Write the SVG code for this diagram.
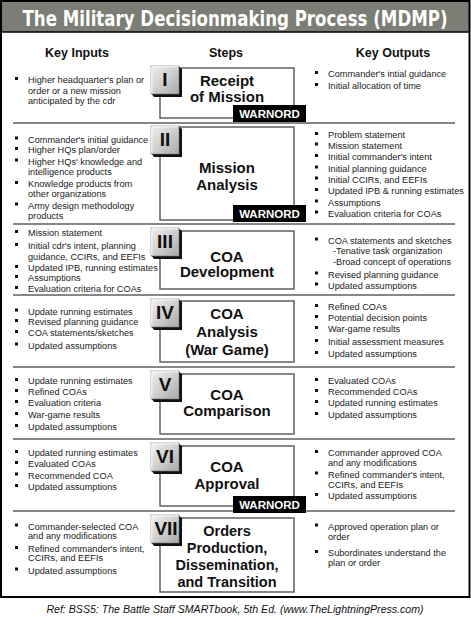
<svg xmlns="http://www.w3.org/2000/svg" xmlns:xlink="http://www.w3.org/1999/xlink" width="471" height="627" viewBox="0 0 471 627">
<defs>
  <linearGradient id="face" x1="0" y1="0" x2="1" y2="1">
    <stop offset="0" stop-color="#f0f0f0"/>
    <stop offset="0.5" stop-color="#cfcfcf"/>
    <stop offset="1" stop-color="#a8a8a8"/>
  </linearGradient>
  <g id="btn">
    <polygon points="27,0 31,3 31,31 3,31 0,27 27,27" fill="#111"/>
    <rect x="0" y="0" width="28" height="28" fill="url(#face)" stroke="#777" stroke-width="0.6"/>
    <polyline points="0.8,27 0.8,0.8 27,0.8" fill="none" stroke="#fff" stroke-width="1"/>
  </g>
  <rect id="b" width="3" height="3" fill="#111"/>
</defs>
<style>
  .hdr{font-family:"DejaVu Sans Condensed","DejaVu Sans",sans-serif;font-weight:bold;font-size:18.5px;fill:#fff}
  .col{font-family:"Liberation Sans",Arial,sans-serif;font-weight:bold;font-size:12.5px;fill:#111;text-anchor:middle}
  .t{font-family:"Liberation Sans",Arial,sans-serif;font-size:9.2px;fill:#1a1a1a}
  .box{fill:#fff;stroke:#555;stroke-width:1.4}
  .st{font-family:"Liberation Sans",Arial,sans-serif;font-weight:bold;font-size:15px;fill:#111;text-anchor:middle}
  .st7{font-family:"Liberation Sans",Arial,sans-serif;font-weight:bold;font-size:14.5px;fill:#111;text-anchor:middle}
  .rn{font-family:"Liberation Sans",Arial,sans-serif;font-weight:bold;font-size:19px;fill:#111;text-anchor:middle}
  .wb{fill:#000}
  .wt{font-family:"Liberation Sans",Arial,sans-serif;font-weight:bold;font-size:11.5px;fill:#fff;text-anchor:middle}
  .sep{stroke:#111;stroke-width:1.2}
  .ref{font-family:"Liberation Sans",Arial,sans-serif;font-style:italic;font-size:10.6px;fill:#111;text-anchor:middle}
</style>
<rect x="0" y="0" width="471" height="627" fill="#fff"/>
<rect x="1" y="1" width="468.5" height="31" fill="#7c7d75"/>
<rect x="1" y="1" width="468.5" height="596" fill="none" stroke="#000" stroke-width="2"/>
<line x1="1" y1="32" x2="470" y2="32" stroke="#000" stroke-width="1.6"/>
<text class="hdr" transform="translate(235,26) scale(1,1.12)" x="0" y="0" text-anchor="middle">The Military Decisionmaking Process (MDMP)</text>

<text class="col" x="77" y="57">Key Inputs</text>
<text class="col" x="226" y="57">Steps</text>
<text class="col" x="393" y="57">Key Outputs</text>

<g id="connectors">
  <line class="sep" x1="13" y1="123" x2="455" y2="123"/>
  <line class="sep" x1="13" y1="224" x2="455" y2="224"/>
  <line class="sep" x1="13" y1="295" x2="455" y2="295"/>
  <line class="sep" x1="13" y1="367" x2="455" y2="367"/>
  <line class="sep" x1="13" y1="439" x2="455" y2="439"/>
  <line class="sep" x1="13" y1="511" x2="455" y2="511"/>
</g>

<!-- Step I -->
<g id="step-1">
  <rect class="box" x="160" y="68" width="134" height="50"/>
  <use xlink:href="#btn" x="151" y="66"/>
  <text class="rn" x="165" y="86">I</text>
  <text class="st" x="227" y="86">Receipt</text>
  <text class="st" x="227" y="102">of Mission</text>
  <rect class="wb" x="233" y="105" width="73" height="17"/>
  <text class="wt" x="269.5" y="118">WARNORD</text>
</g>
<g id="inputs-1">
  <use xlink:href="#b" x="15" y="77"/>
  <text class="t" x="28" y="83">Higher headquarter's plan or</text>
  <text class="t" x="28" y="94">order or a new mission</text>
  <text class="t" x="28" y="104">anticipated by the cdr</text>
</g>
<g id="outputs-1">
  <use xlink:href="#b" x="315" y="71"/>
  <text class="t" x="328" y="77">Commander's intial guidance</text>
  <use xlink:href="#b" x="315" y="83"/>
  <text class="t" x="328" y="89">Initial allocation of time</text>
</g>

<!-- Step II -->
<g id="step-2">
  <rect class="box" x="160" y="127" width="134" height="93"/>
  <use xlink:href="#btn" x="151" y="126"/>
  <text class="rn" x="165" y="146">II</text>
  <text class="st" x="227" y="173">Mission</text>
  <text class="st" x="227" y="190">Analysis</text>
  <rect class="wb" x="233" y="205" width="73" height="17"/>
  <text class="wt" x="269.5" y="218">WARNORD</text>
</g>
<g id="inputs-2">
  <use xlink:href="#b" x="15" y="136.5"/>
  <text class="t" x="28" y="142.5">Commander's initial guidance</text>
  <use xlink:href="#b" x="15" y="147"/>
  <text class="t" x="28" y="153">Higher HQs plan/order</text>
  <use xlink:href="#b" x="15" y="158.5"/>
  <text class="t" x="28" y="164.5">Higher HQs' knowledge and</text>
  <text class="t" x="28" y="175">intelligence products</text>
  <use xlink:href="#b" x="15" y="181"/>
  <text class="t" x="28" y="187">Knowledge products from</text>
  <text class="t" x="28" y="197">other organizations</text>
  <use xlink:href="#b" x="15" y="202.5"/>
  <text class="t" x="28" y="208.5">Army design methodology</text>
  <text class="t" x="28" y="219">products</text>
</g>
<g id="outputs-2">
  <use xlink:href="#b" x="315" y="132"/>
  <text class="t" x="328" y="138">Problem statement</text>
  <use xlink:href="#b" x="315" y="142.5"/>
  <text class="t" x="328" y="148.5">Mission statement</text>
  <use xlink:href="#b" x="315" y="154"/>
  <text class="t" x="328" y="160">Initial commander's intent</text>
  <use xlink:href="#b" x="315" y="165.5"/>
  <text class="t" x="328" y="171.5">Initial planning guidance</text>
  <use xlink:href="#b" x="315" y="176.5"/>
  <text class="t" x="328" y="182.5">Initial CCIRs, and EEFIs</text>
  <use xlink:href="#b" x="315" y="188"/>
  <text class="t" x="328" y="194">Updated IPB &amp; running estimates</text>
  <use xlink:href="#b" x="315" y="199.5"/>
  <text class="t" x="328" y="205.5">Assumptions</text>
  <use xlink:href="#b" x="315" y="210.5"/>
  <text class="t" x="328" y="216.5">Evaluation criteria for COAs</text>
</g>

<!-- Step III -->
<g id="step-3">
  <rect class="box" x="160" y="231" width="134" height="58"/>
  <use xlink:href="#btn" x="151" y="228"/>
  <text class="rn" x="165" y="248">III</text>
  <text class="st" x="227" y="261.5">COA</text>
  <text class="st" x="227" y="277">Development</text>
</g>
<g id="inputs-3">
  <use xlink:href="#b" x="15" y="230"/>
  <text class="t" x="28" y="236">Mission statement</text>
  <use xlink:href="#b" x="15" y="243"/>
  <text class="t" x="28" y="249">Initial cdr's intent, planning</text>
  <text class="t" x="28" y="260">guidance, CCIRs, and EEFIs</text>
  <use xlink:href="#b" x="15" y="265"/>
  <text class="t" x="28" y="271">Updated IPB, running estimates</text>
  <use xlink:href="#b" x="15" y="275"/>
  <text class="t" x="28" y="281">Assumptions</text>
  <use xlink:href="#b" x="15" y="286"/>
  <text class="t" x="28" y="292">Evaluation criteria for COAs</text>
</g>
<g id="outputs-3">
  <use xlink:href="#b" x="315" y="237.5"/>
  <text class="t" x="328" y="243.5">COA statements and sketches</text>
  <text class="t" x="333" y="254">-Tenative task organization</text>
  <text class="t" x="333" y="265">-Broad concept of operations</text>
  <use xlink:href="#b" x="315" y="271.5"/>
  <text class="t" x="328" y="277.5">Revised planning guidance</text>
  <use xlink:href="#b" x="315" y="282.5"/>
  <text class="t" x="328" y="288.5">Updated assumptions</text>
</g>

<!-- Step IV -->
<g id="step-4">
  <rect class="box" x="160" y="301" width="134" height="61"/>
  <use xlink:href="#btn" x="151" y="299"/>
  <text class="rn" x="165" y="319">IV</text>
  <text class="st" x="227" y="319">COA</text>
  <text class="st" x="227" y="337">Analysis</text>
  <text class="st" x="227" y="355">(War Game)</text>
</g>
<g id="inputs-4">
  <use xlink:href="#b" x="15" y="308.5"/>
  <text class="t" x="28" y="314.5">Update running estimates</text>
  <use xlink:href="#b" x="15" y="319"/>
  <text class="t" x="28" y="325">Revised planning guidance</text>
  <use xlink:href="#b" x="15" y="330"/>
  <text class="t" x="28" y="336">COA statements/sketches</text>
  <use xlink:href="#b" x="15" y="342.5"/>
  <text class="t" x="28" y="348.5">Updated assumptions</text>
</g>
<g id="outputs-4">
  <use xlink:href="#b" x="315" y="304"/>
  <text class="t" x="328" y="310">Refined COAs</text>
  <use xlink:href="#b" x="315" y="315"/>
  <text class="t" x="328" y="321">Potential decision points</text>
  <use xlink:href="#b" x="315" y="326"/>
  <text class="t" x="328" y="332">War-game results</text>
  <use xlink:href="#b" x="315" y="339"/>
  <text class="t" x="328" y="345">Initial assessment measures</text>
  <use xlink:href="#b" x="315" y="351"/>
  <text class="t" x="328" y="357">Updated assumptions</text>
</g>

<!-- Step V -->
<g id="step-5">
  <rect class="box" x="160" y="374" width="134" height="60"/>
  <use xlink:href="#btn" x="151" y="371"/>
  <text class="rn" x="165" y="391">V</text>
  <text class="st" x="227" y="400">COA</text>
  <text class="st" x="227" y="416">Comparison</text>
</g>
<g id="inputs-5">
  <use xlink:href="#b" x="15" y="378"/>
  <text class="t" x="28" y="384">Update running estimates</text>
  <use xlink:href="#b" x="15" y="389"/>
  <text class="t" x="28" y="395">Refined COAs</text>
  <use xlink:href="#b" x="15" y="400"/>
  <text class="t" x="28" y="406">Evaluation criteria</text>
  <use xlink:href="#b" x="15" y="412"/>
  <text class="t" x="28" y="418">War-game results</text>
  <use xlink:href="#b" x="15" y="424"/>
  <text class="t" x="28" y="430">Updated assumptions</text>
</g>
<g id="outputs-5">
  <use xlink:href="#b" x="315" y="378"/>
  <text class="t" x="328" y="384">Evaluated COAs</text>
  <use xlink:href="#b" x="315" y="389"/>
  <text class="t" x="328" y="395">Recommended COAs</text>
  <use xlink:href="#b" x="315" y="400"/>
  <text class="t" x="328" y="406">Updated running estimates</text>
  <use xlink:href="#b" x="315" y="412"/>
  <text class="t" x="328" y="418">Updated assumptions</text>
</g>

<!-- Step VI -->
<g id="step-6">
  <rect class="box" x="160" y="446" width="134" height="60"/>
  <use xlink:href="#btn" x="151" y="443"/>
  <text class="rn" x="165" y="463">VI</text>
  <text class="st" x="227" y="472">COA</text>
  <text class="st" x="227" y="489">Approval</text>
  <rect class="wb" x="233" y="496" width="73" height="17"/>
  <text class="wt" x="269.5" y="509">WARNORD</text>
</g>
<g id="inputs-6">
  <use xlink:href="#b" x="15" y="450"/>
  <text class="t" x="28" y="456">Updated running estimates</text>
  <use xlink:href="#b" x="15" y="461"/>
  <text class="t" x="28" y="467">Evaluated COAs</text>
  <use xlink:href="#b" x="15" y="472.5"/>
  <text class="t" x="28" y="478.5">Recommended COA</text>
  <use xlink:href="#b" x="15" y="484"/>
  <text class="t" x="28" y="490">Updated assumptions</text>
</g>
<g id="outputs-6">
  <use xlink:href="#b" x="315" y="450"/>
  <text class="t" x="328" y="456">Commander approved COA</text>
  <text class="t" x="328" y="466">and any modifications</text>
  <use xlink:href="#b" x="315" y="471.5"/>
  <text class="t" x="328" y="477.5">Refined commander's intent,</text>
  <text class="t" x="328" y="487.5">CCIRs, and EEFIs</text>
  <use xlink:href="#b" x="315" y="493"/>
  <text class="t" x="328" y="499">Updated assumptions</text>
</g>

<!-- Step VII -->
<g id="step-7">
  <rect class="box" x="160" y="518" width="134" height="74"/>
  <use xlink:href="#btn" x="151" y="515"/>
  <text class="rn" x="166" y="535">VII</text>
  <text class="st7" x="227" y="536">Orders</text>
  <text class="st7" x="227" y="553">Production,</text>
  <text class="st7" x="227" y="569.5">Dissemination,</text>
  <text class="st7" x="227" y="587">and Transition</text>
</g>
<g id="inputs-7">
  <use xlink:href="#b" x="15" y="523.5"/>
  <text class="t" x="28" y="529.5">Commander-selected COA</text>
  <text class="t" x="28" y="538.5">and any modifications</text>
  <use xlink:href="#b" x="15" y="546"/>
  <text class="t" x="28" y="552">Refined commander's intent,</text>
  <text class="t" x="28" y="561">CCIRs, and EEFIs</text>
  <use xlink:href="#b" x="15" y="567.5"/>
  <text class="t" x="28" y="573.5">Updated assumptions</text>
</g>
<g id="outputs-7">
  <use xlink:href="#b" x="315" y="523.5"/>
  <text class="t" x="328" y="529.5">Approved operation plan or</text>
  <text class="t" x="328" y="540">order</text>
  <use xlink:href="#b" x="315" y="550"/>
  <text class="t" x="328" y="556">Subordinates understand the</text>
  <text class="t" x="328" y="566">plan or order</text>
</g>

<text class="ref" x="235" y="613">Ref: BSS5: The Battle Staff SMARTbook, 5th Ed. (www.TheLightningPress.com)</text>
</svg>
